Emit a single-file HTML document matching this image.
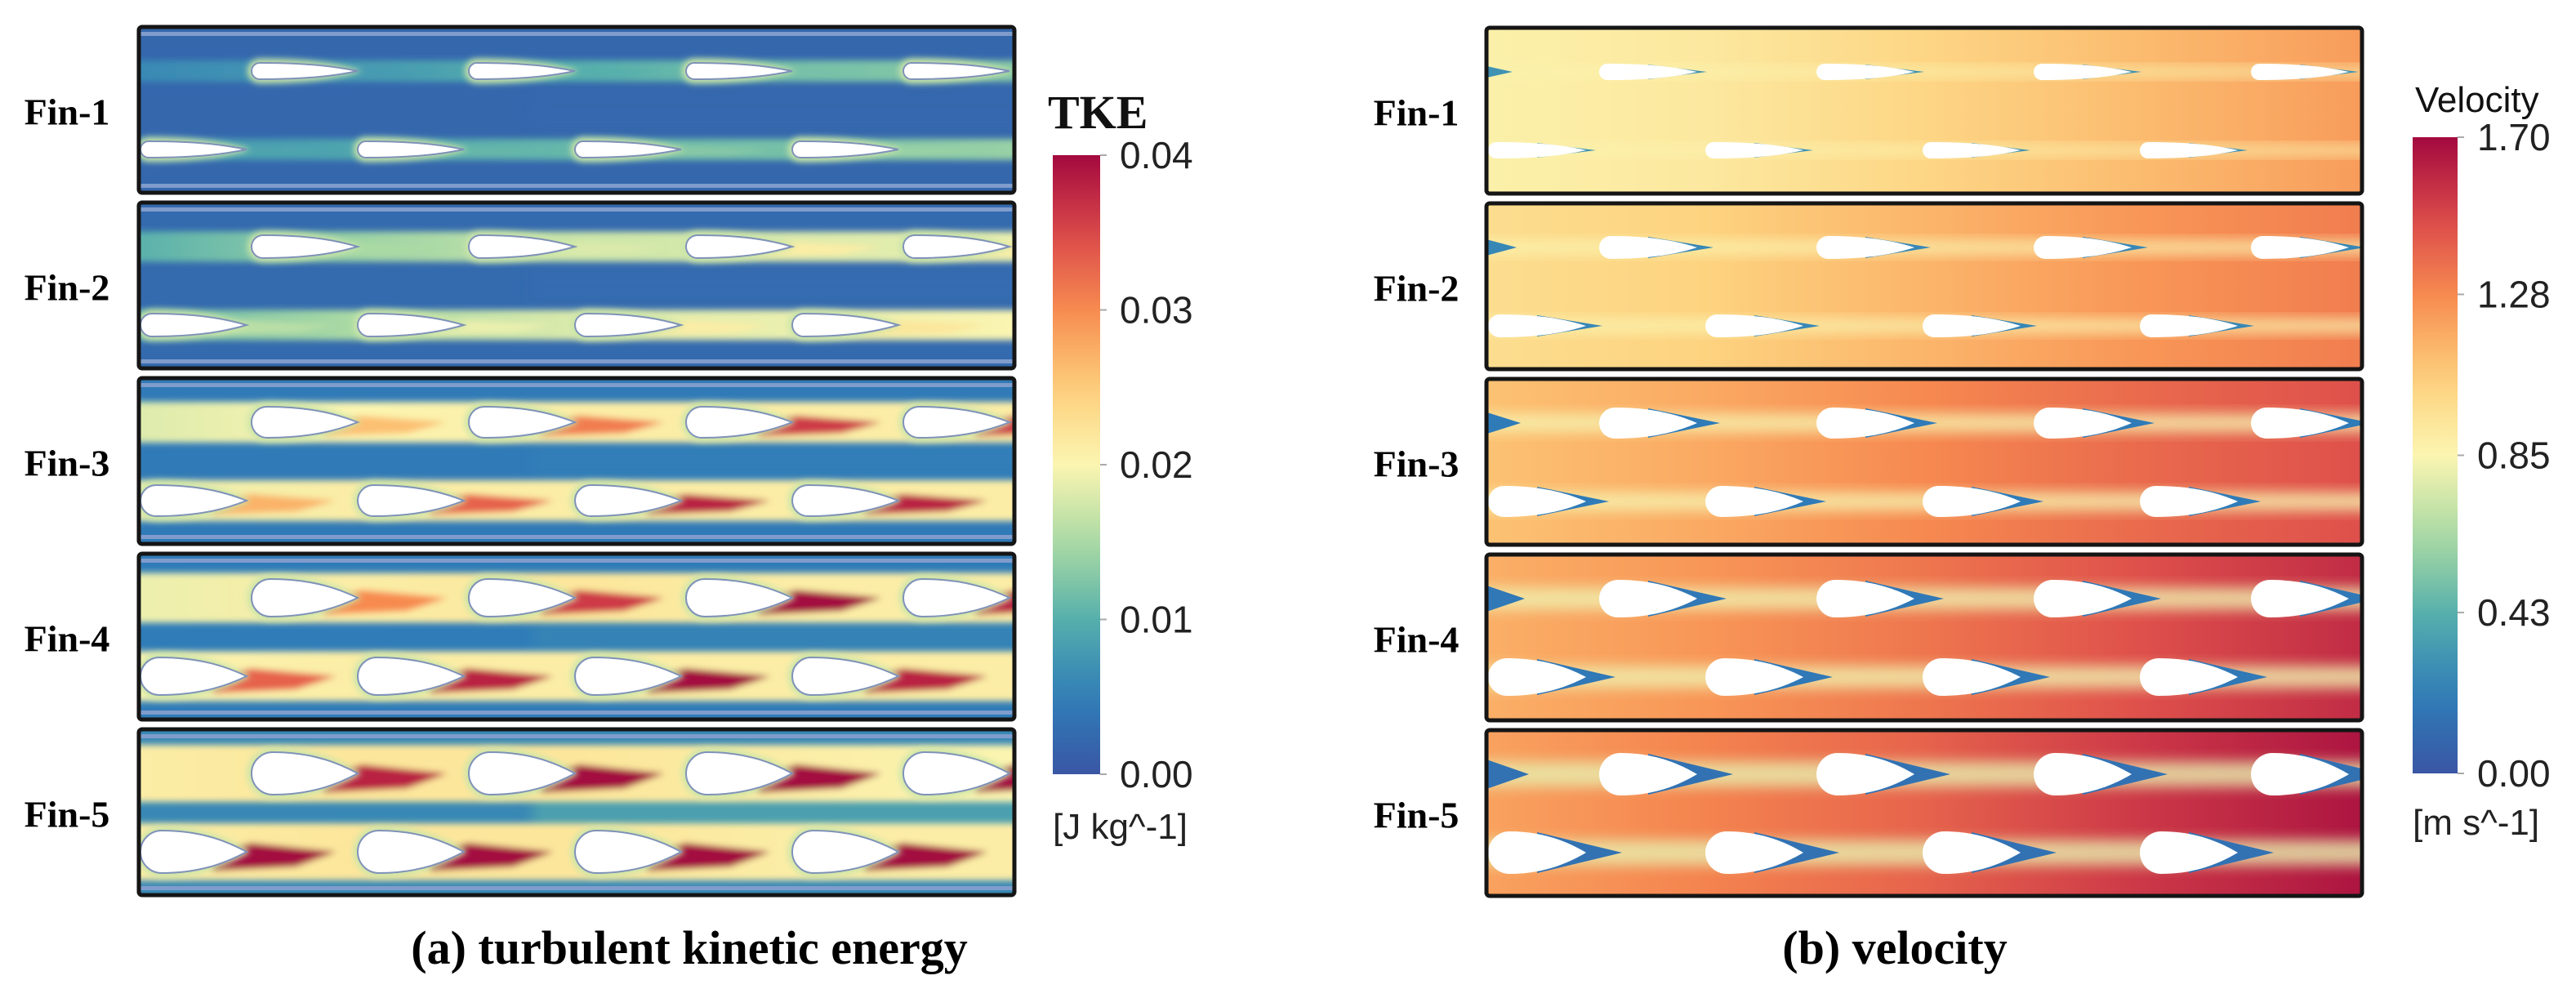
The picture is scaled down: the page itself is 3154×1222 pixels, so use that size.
<!DOCTYPE html>
<html><head><meta charset="utf-8"><style>
html,body{margin:0;padding:0;background:#fff;}
svg{display:block;}
</style></head><body>
<svg id="fig" width="3154" height="1222" viewBox="0 0 3154 1222" xmlns="http://www.w3.org/2000/svg">
<defs id="defs">
<filter id="blur4" x="-20%" y="-50%" width="140%" height="200%"><feGaussianBlur stdDeviation="4"/></filter>
<filter id="blur8" x="-20%" y="-50%" width="140%" height="200%"><feGaussianBlur stdDeviation="8"/></filter>
</defs>
<g id="left"></g>
<g id="right"></g>
<g id="cbars"></g>
<text x="844" y="1180" text-anchor="middle" font-family="Liberation Serif, serif" font-weight="bold" font-size="58">(a) turbulent kinetic energy</text>
<text x="2320" y="1180" text-anchor="middle" font-family="Liberation Serif, serif" font-weight="bold" font-size="58">(b) velocity</text>
</svg>
<script>
// ---- data ----
var finLabels = ["Fin-1","Fin-2","Fin-3","Fin-4","Fin-5"];
var finHeights = [20, 28, 38, 46, 52];
var tkeTicks = [0.00, 0.01, 0.02, 0.03, 0.04];
var tkeTickLabels = ["0.00","0.01","0.02","0.03","0.04"];
var velTicks = [0.00, 0.43, 0.85, 1.28, 1.70];
var velTickLabels = ["0.00","0.43","0.85","1.28","1.70"];
var tkeBg = [0.0022, 0.0025, 0.0045, 0.0048, 0.0060];
var tkeMid = [0.0022, 0.0028, 0.0050, 0.0055, 0.0085];
var tkeBandTop = [[0.006,0.008,0.010,0.012,0.013],[0.010,0.014,0.017,0.018,0.019],[0.018,0.020,0.021,0.021,0.021],[0.019,0.021,0.022,0.021,0.021],[0.021,0.022,0.022,0.021,0.020]];
var tkeBandBot = [[0.007,0.009,0.011,0.012,0.014],[0.011,0.015,0.018,0.019,0.020],[0.019,0.021,0.021,0.021,0.021],[0.020,0.021,0.021,0.021,0.021],[0.021,0.022,0.022,0.021,0.021]];
var tkeHotTop = [[0.008,0.010,0.012,0.013],[0.015,0.018,0.021,0.021],[0.026,0.031,0.036,0.036],[0.030,0.036,0.040,0.038],[0.038,0.040,0.040,0.040]];
var tkeHotBot = [[0.009,0.011,0.013,0.014],[0.016,0.019,0.021,0.022],[0.027,0.033,0.038,0.038],[0.033,0.038,0.040,0.038],[0.040,0.040,0.040,0.040]];
var velBg = [[0.88,0.92,1.02,1.12,1.22],[0.98,1.04,1.14,1.24,1.32],[1.10,1.18,1.28,1.38,1.46],[1.16,1.24,1.34,1.46,1.58],[1.20,1.30,1.40,1.54,1.66]];
var velBand = [0.86, 0.85, 0.84, 0.82, 0.80];
var velWedge = [0.30, 0.25, 0.20, 0.18, 0.15];

// ---- layout ----
var panelTop0 = 35, panelStep = 215, panelH = 199, panelW = 1068;
var leftX = 172, rightX = 1822;
var rowTop = 52, rowBot = 148, pitch = 266, finLen = 130, topStart = 136, botStart = 0;

var NS = "http://www.w3.org/2000/svg";
var cmapStops = [[0,"#3a56a4"],[0.12,"#2f7cb8"],[0.25,"#56afac"],[0.37,"#a7d9a3"],[0.5,"#fbf5b1"],[0.62,"#fdd07c"],[0.75,"#f78b50"],[0.87,"#db4a4a"],[1,"#a3093f"]];
function hex2rgb(h){return [parseInt(h.substr(1,2),16),parseInt(h.substr(3,2),16),parseInt(h.substr(5,2),16)];}
function cmap(t){t=Math.max(0,Math.min(1,t));for(var i=1;i<cmapStops.length;i++){if(t<=cmapStops[i][0]){var a=cmapStops[i-1],b=cmapStops[i];var f=(t-a[0])/(b[0]-a[0]);var ca=hex2rgb(a[1]),cb=hex2rgb(b[1]);return "rgb("+ca.map(function(v,k){return Math.round(v+(cb[k]-v)*f);}).join(",")+")";}}return cmapStops[cmapStops.length-1][1];}
function tkeC(v){return cmap(v/0.04);}
function velC(v){return cmap(v/1.70);}
function mk(tag,attrs,parent){var e=document.createElementNS(NS,tag);for(var k in attrs)e.setAttribute(k,attrs[k]);if(parent)parent.appendChild(e);return e;}
var defs=document.getElementById("defs");
var gid=0;
function hgrad(vals,cf){var id="g"+(gid++);var g=mk("linearGradient",{id:id,x1:0,y1:0,x2:1,y2:0},defs);vals.forEach(function(v,i){mk("stop",{offset:(i/(vals.length-1)),"stop-color":cf(v)},g);});return "url(#"+id+")";}
function finPath(x0,cy,L,h){var r=h/2;var hx=x0+r;return "M"+hx+","+(cy-r)+" C"+(x0+L*0.6)+","+(cy-r)+" "+(x0+L*0.85)+","+(cy-r*0.4)+" "+(x0+L)+","+cy+" C"+(x0+L*0.85)+","+(cy+r*0.4)+" "+(x0+L*0.6)+","+(cy+r)+" "+hx+","+(cy+r)+" A"+r+","+r+" 0 0 1 "+hx+","+(cy-r)+" Z";}

function drawPanel(parent,px,py,f,kind){
  var g=mk("g",{},parent);
  
  
  var clipId="c"+(gid++);
  var cp=mk("clipPath",{id:clipId},defs);mk("rect",{x:px,y:py,width:panelW,height:panelH},cp);
  var inner=mk("g",{"clip-path":"url(#"+clipId+")"},g);
  var fh=finHeights[f];
  if(kind==="tke"){
    mk("rect",{x:px,y:py,width:panelW,height:panelH,fill:tkeC(tkeBg[f])},inner);
    mk("rect",{x:px+panelW*0.45,y:py+80,width:panelW*0.6,height:40,fill:tkeC(tkeMid[f]),filter:"url(#blur8)"},inner);
    mk("rect",{x:px,y:py+4,width:panelW,height:5,fill:"#7f9ccc"},inner);
    mk("rect",{x:px,y:py+panelH-9,width:panelW,height:5,fill:"#7f9ccc"},inner);
    var blurG=mk("g",{filter:"url(#blur4)"},inner);
    [[rowTop,tkeBandTop[f],tkeHotTop[f],topStart],[rowBot,tkeBandBot[f],tkeHotBot[f],botStart]].forEach(function(r){
      var cy=py+r[0], bh=fh+6+f*3;
      var band=mk("rect",{x:px-20,y:cy-bh/2,width:panelW+40,height:bh,fill:hgrad(r[1],tkeC)},blurG);
      
      
      r[2].forEach(function(v,i){
        var tx=px+r[3]+i*pitch+finLen;
        var hw=fh*0.35;
        var hs=mk("path",{d:"M"+(tx-50)+","+(cy+fh*0.15)+" L"+(tx+5)+","+(cy-hw*0.6)+" L"+(tx+110)+","+(cy)+" L"+(tx+60)+","+(cy+hw)+" L"+(tx-40)+","+(cy+fh*0.45)+" Z",fill:tkeC(v)},blurG);
        
        
      });
    });
    [[rowTop,topStart],[rowBot,botStart]].forEach(function(r){
      var cy=py+r[0];
      for(var i=0;i<4;i++){
        var x0=px+r[1]+i*pitch;
        mk("path",{d:finPath(x0-5,cy,finLen+10,fh+10),fill:tkeC(0.017),filter:"url(#blur4)"},inner);
        var fin=mk("path",{d:finPath(x0,cy,finLen,fh),fill:"#ffffff",stroke:"#7f92b8","stroke-width":2},inner);
        
        
      }
    });
  } else {
    mk("rect",{x:px,y:py,width:panelW,height:panelH,fill:hgrad(velBg[f],velC)},inner);
    [[rowTop,topStart],[rowBot,botStart]].forEach(function(r){
      var cy=py+r[0];
      var band=mk("rect",{x:px-20,y:cy-fh*0.3,width:panelW+40,height:fh*0.6,fill:velC(velBand[f]),opacity:0.8,filter:"url(#blur8)"},inner);
      
      
      for(var i=0;i<4;i++){
        var x0=px+r[1]+i*pitch;
        var L=finLen-10;
        var w=mk("path",{d:"M"+(x0+L*0.5)+","+(cy-fh/2+1)+" L"+(x0+L+12+f*8)+","+cy+" L"+(x0+L*0.5)+","+(cy+fh/2-1)+" Z",fill:velC(velWedge[f])},inner);
        
        
        var fin=mk("path",{d:finPath(x0,cy,L,fh),fill:"#ffffff"},inner);
        
        
      }
      if(r[1]>0){mk("path",{d:"M"+px+","+(cy-fh/3)+" L"+(px+30+f*5)+","+cy+" L"+px+","+(cy+fh/3)+" Z",fill:velC(velWedge[f])},inner);}
    });
  }
  var fr=mk("rect",{x:px-2,y:py-2,width:panelW+4,height:panelH+4,rx:4,fill:"none",stroke:"#151515","stroke-width":5},g);
  
  
  var lab=mk("text",{x:px-(kind==="tke"?90:88),y:py+panelH/2+18,"text-anchor":"middle","font-family":"Liberation Serif, serif","font-weight":"bold","font-size":46},parent);
  lab.textContent=finLabels[f];
  
  
}
var L=document.getElementById("left"),R=document.getElementById("right");
for(var f=0;f<5;f++){drawPanel(L,leftX,panelTop0+f*panelStep,f,"tke");drawPanel(R,rightX,panelTop0+f*panelStep+1,f,"vel");}

function colorbar(x,top,bot,w,ticks,labels,maxv,title,titleBold,unit,unitY,titleX,titleY){
  var C=document.getElementById("cbars");
  var id="cb"+(gid++);var g=mk("linearGradient",{id:id,x1:0,y1:1,x2:0,y2:0},defs);
  for(var i=0;i<=20;i++){mk("stop",{offset:i/20,"stop-color":cmap(i/20)},g);}
  var r=mk("rect",{x:x,y:top,width:w,height:bot-top,fill:"url(#"+id+")"},C);
  
  
  ticks.forEach(function(t,i){
    var y=bot-(t/maxv)*(bot-top);
    mk("line",{x1:x+w,x2:x+w+8,y1:y,y2:y,stroke:"#aaa","stroke-width":2},C);
    var tx=mk("text",{x:x+w+24,y:y+16,"font-family":"Liberation Sans, sans-serif","font-size":46,fill:"#222"},C);
    tx.textContent=labels[i];
    
    
  });
  var tt=mk("text",{x:titleX,y:titleY,"font-family":titleBold?"Liberation Serif, serif":"Liberation Sans, sans-serif","font-weight":titleBold?"bold":"normal","font-size":titleBold?58:44,fill:"#111"},C);
  tt.textContent=title;
  
  
  var u=mk("text",{x:x,y:unitY,"font-family":"Liberation Sans, sans-serif","font-size":44,fill:"#222"},C);
  u.textContent=unit;
  
  
}
colorbar(1289,190,948,58,tkeTicks,tkeTickLabels,0.04,"TKE",true,"[J kg^-1]",1027,1283,157);
colorbar(2954,168,947,55,velTicks,velTickLabels,1.70,"Velocity",false,"[m s^-1]",1022,2957,137);
</script>
</body></html>
